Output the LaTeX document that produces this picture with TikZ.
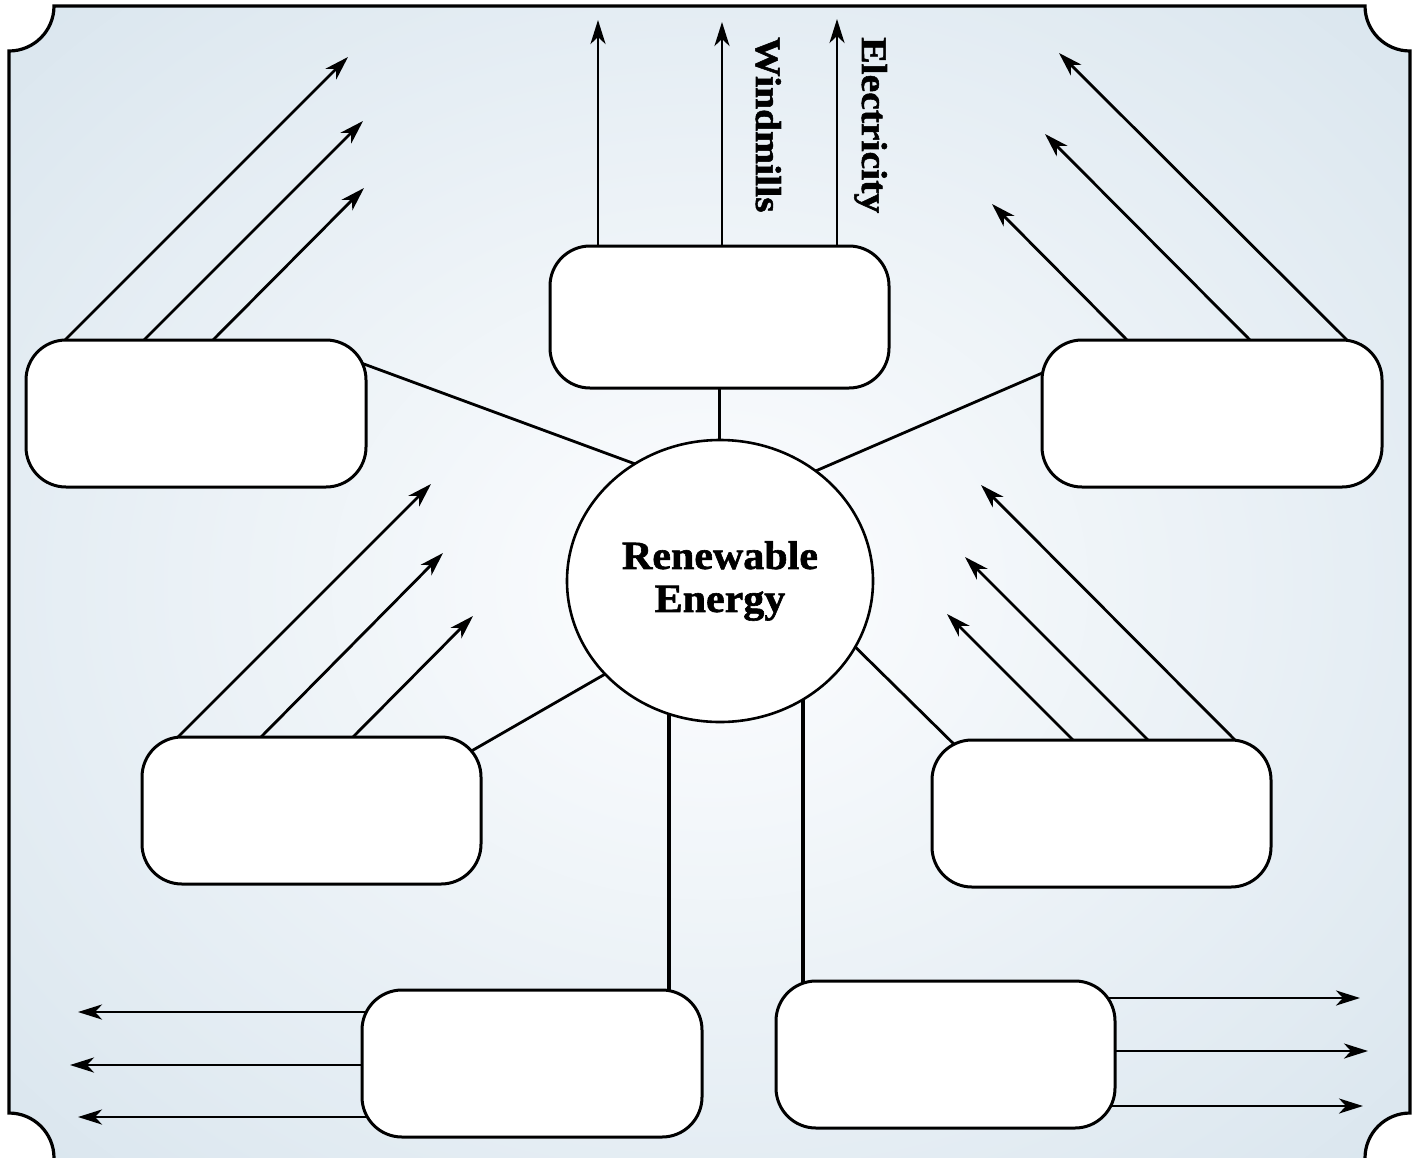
\documentclass[tikz,border=0pt]{standalone}
\usepackage{fontspec}
\setmainfont{Liberation Serif}
\newfontfamily\ctrfont[FakeStretch=1.05,FakeBold=1.5]{Liberation Serif}
\newfontfamily\lblfont[FakeStretch=1.1,FakeBold=1.5]{Liberation Serif}
\usetikzlibrary{arrows.meta,calc,shapes.geometric}
\definecolor{cin}{RGB}{249,251,253}
\definecolor{cout}{RGB}{211,225,235}
\pgfdeclareradialshading{bgshade}{\pgfpoint{0bp}{0bp}}{color(0bp)=(cin); color(4bp)=(cin); color(42bp)=(cout); color(80bp)=(cout)}
\pgfdeclarelayer{bg}
\pgfdeclarelayer{conn}
\pgfsetlayers{bg,conn,main}
\begin{document}
\begin{tikzpicture}[x=1pt,y=-1pt,
  box/.style={draw, fill=white, line width=3pt, rounded corners=40pt, minimum width=340pt, minimum height=147pt, inner sep=0pt, outer sep=0pt},
  arr/.style={line width=2.8pt, -{Stealth[length=24pt,width=15pt,inset=7pt]}},
  link/.style={line width=2.8pt},
  vlink/.style={line width=3.5pt},
  lbl/.style={font=\lblfont\bfseries\fontsize{36}{40}\selectfont, rotate=-90, anchor=base west, inner sep=0pt}]
\useasboundingbox (0,0) rectangle (1418,1157);
\begin{pgfonlayer}{bg}
\shadedraw[shading=bgshade, line width=3.2pt]
  (54,6) -- (1365,6) .. controls (1365,30.85) and (1385.15,51) .. (1410,51)
  -- (1410,1113) .. controls (1385.15,1113) and (1365,1133.15) .. (1365,1158)
  -- (1365,1166) -- (54,1166) -- (54,1158)
  .. controls (54,1133.15) and (33.85,1113) .. (9,1113)
  -- (9,51) .. controls (33.85,51) and (54,30.85) .. (54,6) -- cycle;
\end{pgfonlayer}

% boxes
\node[box, minimum width=339pt, minimum height=142pt] (top) at (719.5,317) {};
\node[box] (tl) at (196,413.5) {};
\node[box] (tr) at (1212,413.5) {};
\node[box, minimum width=339pt] (ml) at (311.5,810.5) {};
\node[box, minimum width=339pt] (mr) at (1101.5,813.5) {};
\node[box] (bl) at (532,1063.5) {};
\node[box, minimum width=339pt] (br) at (945.5,1054.5) {};

% centre
\node[ellipse, draw, fill=white, line width=2.6pt, minimum width=306pt, minimum height=282pt,
      inner sep=0pt, outer sep=0pt, align=center,
      font=\ctrfont\bfseries\fontsize{40}{43}\selectfont] (c) at (720,581) {Renewable\\Energy};

% labels
\node[lbl] (wind) at (756,37) {Windmills};
\node[lbl] (elec) at (862,37) {Electricity};

\coordinate (blv) at ($(bl.north)+(137,20)$);
\coordinate (brv) at ($(br.north)+(-142.5,20)$);

\begin{pgfonlayer}{conn}
% links to centre
\draw[vlink] (top.south) -- (top.south |- c.center);
\draw[link] ($(tl.north east)+(-13,20)$) -- (c.126.7);
\draw[link] ($(tr.north west)+(13,27.5)$) -- (c.49.6);
\draw[link] ($(ml.north east)+(-20,20)$) -- (c.219.5);
\draw[link] ($(mr.north west)+(34,16)$) -- (c.-26.2);
\draw[vlink] (blv) -- (blv |- c.center);
\draw[vlink] (brv) -- (brv |- c.center);

% top box arrows
\draw[arr] ($(top.north west)+(48,0)$) -- ++(0,-226);
\draw[arr] ($(top.north west)+(172,0)$) -- ++(0,-224);
\draw[arr] ($(top.north west)+(287,0)$) -- ++(0,-227);

% top-left box arrows
\draw[arr] ($(tl.north west)+(39,0)$) -- ++(283,-283);
\draw[arr] ($(tl.north west)+(118,0)$) -- ++(219,-219);
\draw[arr] ($(tl.north west)+(187,0)$) -- ++(151,-152);

% top-right box arrows
\draw[arr] ($(tr.north west)+(305,0)$) -- ++(-288,-287);
\draw[arr] ($(tr.north west)+(208,0)$) -- ++(-205,-206);
\draw[arr] ($(tr.north west)+(85,0)$) -- ++(-135,-136);

% mid-left box arrows
\draw[arr] ($(ml.north west)+(36,0)$) -- ++(253,-253);
\draw[arr] ($(ml.north west)+(119,0)$) -- ++(182,-184);
\draw[arr] ($(ml.north west)+(211,0)$) -- ++(120,-121);

% mid-right box arrows
\draw[arr] ($(mr.north west)+(303,0)$) -- ++(-254,-255);
\draw[arr] ($(mr.north west)+(216,0)$) -- ++(-183,-183);
\draw[arr] ($(mr.north west)+(141,0)$) -- ++(-126,-126);

% bottom-left box arrows
\draw[arr] ($(bl.west)+(40,-51.5)$) -- ++(-324,0);
\draw[arr] ($(bl.west)+(40,1.5)$) -- ++(-332,0);
\draw[arr] ($(bl.west)+(40,53.5)$) -- ++(-324,0);

% bottom-right box arrows
\draw[arr] ($(br.east)+(-40,-56.5)$) -- ++(285,0);
\draw[arr] ($(br.east)+(-40,-3.5)$) -- ++(293,0);
\draw[arr] ($(br.east)+(-40,51.5)$) -- ++(288,0);
\end{pgfonlayer}
\end{tikzpicture}
\end{document}
